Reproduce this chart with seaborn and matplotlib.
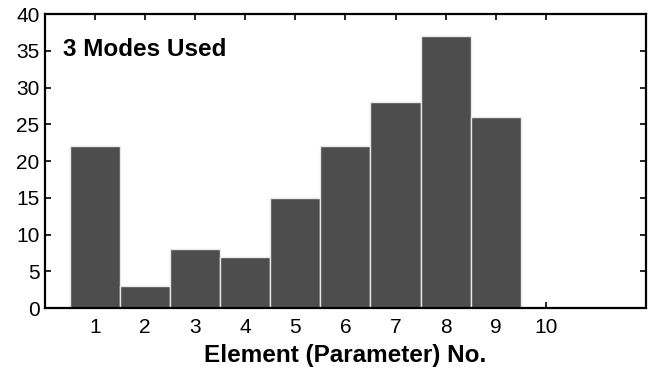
import matplotlib
matplotlib.use("Agg")
import matplotlib.pyplot as plt
import seaborn as sns
import pandas as pd

elements = [0, 1, 2, 3, 4, 5, 6, 7, 8, 9, 10, 11]
counts = [0, 22, 3, 8, 7, 15, 22, 28, 37, 26, 0, 0]
x_ticks = [1, 2, 3, 4, 5, 6, 7, 8, 9, 10]
y_ticks = [0, 5, 10, 15, 20, 25, 30, 35, 40]

sns.set_style("white")
plt.rcParams["font.family"] = ["Liberation Sans", "DejaVu Sans"]
plt.rcParams["text.color"] = "black"

df = pd.DataFrame({"element": elements, "count": counts})

fig = plt.figure(figsize=(6.53, 3.72), dpi=100)
ax = fig.add_axes([0.069, 0.172, 0.92, 0.790])

sns.barplot(data=df, x="element", y="count", native_scale=True, width=1.0,
            color="#4d4d4d", saturation=1, edgecolor="#e8e8e8", linewidth=1.0,
            ax=ax)

ax.set_xlim(0, 12)
ax.set_ylim(0, 40)
ax.set_xticks(x_ticks)
ax.set_yticks(y_ticks)
ax.tick_params(axis="both", direction="in", length=4, width=1.2,
               labelsize=15, top=True, right=True, bottom=True, left=True,
               colors="black", labelcolor="black")
ax.tick_params(axis="x", pad=7)
ax.tick_params(axis="y", pad=4)
for sp in ax.spines.values():
    sp.set_visible(True)
    sp.set_color("black")
    sp.set_linewidth(1.6)

ax.set_xlabel("Element (Parameter) No.", fontsize=17.5, fontweight="bold",
              labelpad=5, color="black")
ax.set_ylabel("")
ax.text(0.36, 35.2, "3 Modes Used", fontsize=17.5, fontweight="bold",
        ha="left", va="center", color="black")

fig.savefig("out.png", dpi=100)
